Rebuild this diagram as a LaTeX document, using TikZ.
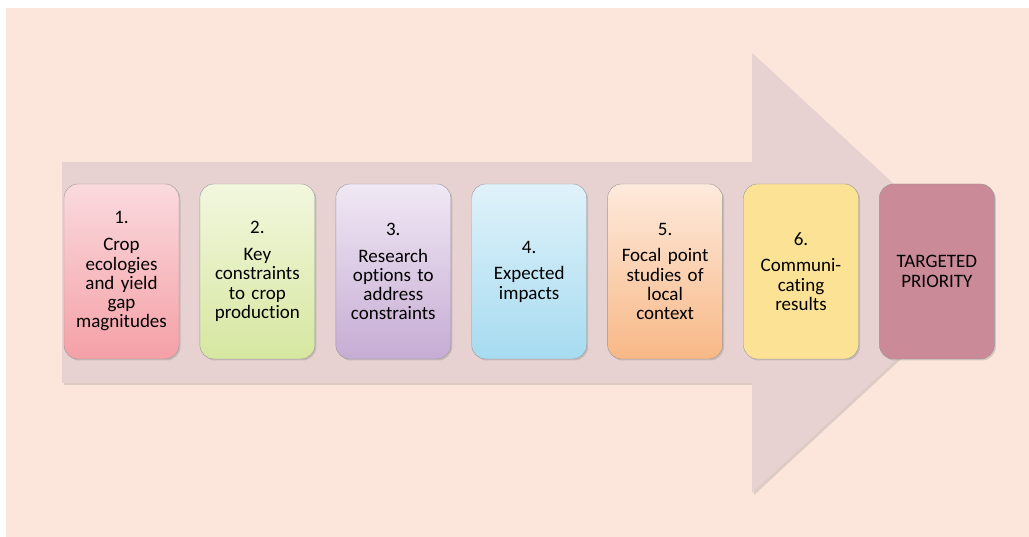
\documentclass[tikz,border=0pt]{standalone}
\usepackage{fontspec}
\setmainfont{Carlito}[Ligatures=NoCommon]
\usetikzlibrary{positioning,shadows}
\definecolor{panel}{RGB}{252,230,220}
\definecolor{arrowpink}{RGB}{232,209,209}
\definecolor{redtop}{RGB}{250,218,222}
\definecolor{redbot}{RGB}{244,160,166}
\definecolor{greentop}{RGB}{242,247,222}
\definecolor{greenbot}{RGB}{214,231,160}
\definecolor{lilactop}{RGB}{240,232,244}
\definecolor{lilacbot}{RGB}{198,172,212}
\definecolor{bluetop}{RGB}{224,242,250}
\definecolor{bluebot}{RGB}{166,219,240}
\definecolor{orangetop}{RGB}{253,234,220}
\definecolor{orangebot}{RGB}{248,184,134}
\definecolor{yellowbox}{RGB}{252,226,148}
\definecolor{roseprio}{RGB}{202,138,152}
\tikzset{
    %Define style for the stage boxes
    stage/.style={
           draw=black!40,
           rounded corners=14pt,
           minimum width=115pt,
           minimum height=175pt,
           text width=104pt,
           align=center,
           font=\fontsize{19}{19.3}\selectfont,
           drop shadow={shadow xshift=1.5pt,shadow yshift=-1.5pt,opacity=0.3},},
    %Define style for the big arrow
    bigarrow/.style={
           fill=arrowpink,
           drop shadow={shadow xshift=2pt,shadow yshift=-2pt,opacity=0.25},}
}
\newcommand{\stagetext}[2]{#1\\[7.5pt]#2}

\begin{document}
\begin{tikzpicture}[x=1pt, y=-1pt, node distance=20.5pt]
 \useasboundingbox (0,0) rectangle (1029,537);
 %background panel
 \fill[panel] (6,8) rectangle (1029,537);
 %arrow
 \path[bigarrow] (62,162) -- (752,162) -- (752,53) -- (990,273)
   -- (752,493) -- (752,383) -- (62,383) -- cycle;

 %nodes
 \node[stage, top color=redtop, bottom color=redbot] (crop) at (121.5,271.5)
   {\stagetext{1.}{Crop\\ecologies\\and yield\\gap\\magnitudes}};
 \node[stage, top color=greentop, bottom color=greenbot, right=of crop] (constraints)
   {\stagetext{2.}{Key\\constraints\\to crop\\production}};
 \node[stage, top color=lilactop, bottom color=lilacbot, right=of constraints] (options)
   {\stagetext{3.}{Research\\options to\\address\\constraints}};
 \node[stage, top color=bluetop, bottom color=bluebot, right=of options] (impacts)
   {\stagetext{4.}{Expected\\impacts}};
 \node[stage, top color=orangetop, bottom color=orangebot, right=of impacts] (focal)
   {\stagetext{5.}{Focal point\\studies of\\local\\context}};
 \node[stage, fill=yellowbox, right=of focal] (results)
   {\stagetext{6.}{Communi-\\cating\\results}};
 \node[stage, fill=roseprio, right=of results] (priority)
   {TARGETED\\PRIORITY};

\end{tikzpicture}
\end{document}
